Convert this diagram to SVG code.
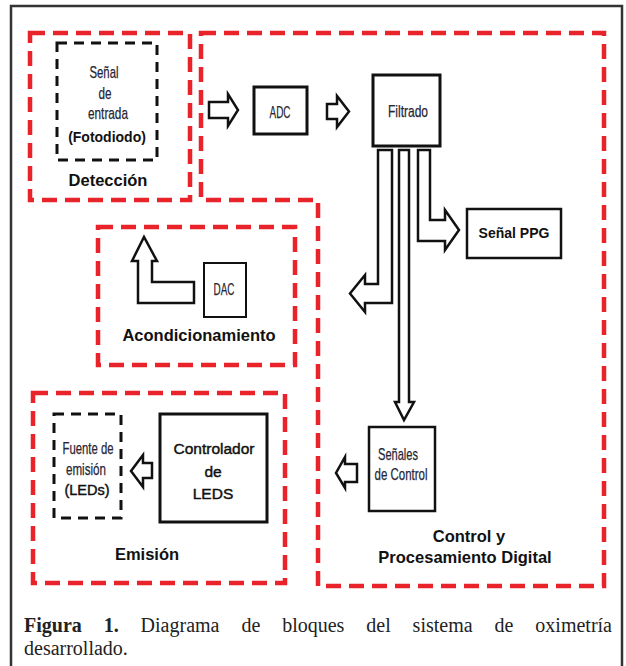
<svg xmlns="http://www.w3.org/2000/svg" width="626" height="666" viewBox="0 0 626 666">
<style>
.frame{fill:none;stroke:#333;stroke-width:2.5}
.red{fill:none;stroke:#e8232a;stroke-width:4.5;stroke-dasharray:15 8}
.bdash{fill:none;stroke:#111;stroke-width:3;stroke-dasharray:10 7}
.box{fill:#fff;stroke:#111;stroke-width:3}
.arr{fill:#fff;stroke:#111;stroke-width:2.5;stroke-linejoin:miter}
.nar{font-family:"Liberation Sans",Arial,sans-serif;font-size:17px;fill:#262636;stroke:#262636;stroke-width:0.25;text-anchor:middle}
.reg{font-family:"Liberation Sans",Arial,sans-serif;font-size:15.5px;fill:#111;stroke:#111;stroke-width:0.45;text-anchor:middle}
.bld{font-family:"Liberation Sans",Arial,sans-serif;font-size:16.5px;font-weight:bold;fill:#111;text-anchor:middle}
.cap{font-family:"Liberation Serif","Times New Roman",serif;font-size:20px;fill:#222}
</style>
<rect width="626" height="666" fill="#fff"/>
<rect class="frame" x="11" y="6" width="611" height="680"/>

<g id="grp-deteccion">
<rect class="red" x="30" y="33" width="160" height="167"/>
<text class="bld" x="108" y="186">Detección</text>
</g>
<g id="grp-control">
<path class="red" d="M201,33 H604 V586 H318 V200 H201 Z"/>
<text class="bld" x="469" y="542">Control y</text>
<text class="bld" x="465" y="563">Procesamiento Digital</text>
</g>
<g id="grp-acond">
<rect class="red" x="98" y="227" width="197" height="138"/>
<text class="bld" x="199" y="341">Acondicionamiento</text>
</g>
<g id="grp-emision">
<rect class="red" x="33" y="393" width="252" height="190"/>
<text class="bld" x="147" y="560">Emisión</text>
</g>

<g id="senal-entrada">
<rect class="bdash" x="57" y="43" width="100" height="117"/>
<text class="nar" x="104" y="78" textLength="29" lengthAdjust="spacingAndGlyphs">Señal</text>
<text class="nar" x="105" y="99" textLength="13" lengthAdjust="spacingAndGlyphs">de</text>
<text class="nar" x="108" y="119" textLength="40" lengthAdjust="spacingAndGlyphs">entrada</text>
<text class="bld" x="107" y="142" style="font-size:14px">(Fotodiodo)</text>
</g>
<g id="adc">
<rect class="box" x="254" y="87" width="53" height="47"/>
<text class="nar" x="280" y="118" textLength="21" lengthAdjust="spacingAndGlyphs">ADC</text>
</g>
<g id="filtrado">
<rect class="box" x="373" y="75" width="67" height="71"/>
<text class="nar" x="408" y="117" textLength="40" lengthAdjust="spacingAndGlyphs">Filtrado</text>
</g>
<g id="senal-ppg">
<rect class="box" x="467" y="209" width="94" height="49" style="stroke-width:2.5"/>
<text class="bld" x="514" y="238" style="font-size:14px">Señal PPG</text>
</g>
<g id="dac">
<rect class="box" x="204" y="263" width="42" height="54" style="stroke-width:2"/>
<text class="nar" x="224" y="295" textLength="21" lengthAdjust="spacingAndGlyphs">DAC</text>
</g>
<g id="senales-control">
<rect class="box" x="369" y="427" width="66" height="84" style="stroke-width:2.5"/>
<text class="nar" x="398" y="460" textLength="40" lengthAdjust="spacingAndGlyphs">Señales</text>
<text class="nar" x="401" y="480" textLength="53" lengthAdjust="spacingAndGlyphs">de Control</text>
</g>
<g id="controlador-leds">
<rect class="box" x="160" y="414" width="107" height="108"/>
<text class="reg" x="214" y="454">Controlador</text>
<text class="reg" x="213" y="477">de</text>
<text class="reg" x="213" y="499">LEDS</text>
</g>
<g id="fuente-emision">
<rect class="bdash" x="54" y="414" width="67" height="104"/>
<text class="nar" x="88" y="454" textLength="51" lengthAdjust="spacingAndGlyphs">Fuente de</text>
<text class="nar" x="86" y="475" textLength="40" lengthAdjust="spacingAndGlyphs">emisión</text>
<text class="reg" x="87" y="495" style="font-size:14.5px">(LEDs)</text>
</g>

<g id="connectors">
<polygon class="arr" points="209,102 228,102 228,94 238,110 228,126 228,118 209,118"/>
<polygon class="arr" points="327,104 337,104 337,96 349,111.5 337,127 337,119 327,119"/>
<polygon class="arr" points="378,150 378,284 365,284 365,275 350,293.5 365,312 365,303 392,303 392,150"/>
<polygon class="arr" points="399,150 399,402 395,402 404,420 414,402 409,402 409,150"/>
<polygon class="arr" points="418,150 418,241 445,241 445,250 459,230 445,210 445,220 430,220 430,150"/>
<polygon class="arr" points="194,282 152,282 152,261 157,261 144,237 132,261 138,261 138,303 194,303"/>
<polygon class="arr" points="357,464 345,464 345,457 336,473 345,488 345,482 357,482"/>
<polygon class="arr" points="152,463 143,463 143,455 131,471 143,487 143,478 152,478"/>
</g>

<g id="caption">
<text class="cap" y="632"><tspan x="24" font-weight="bold">Figura</tspan><tspan x="103.7" font-weight="bold">1.</tspan><tspan x="140.6">Diagrama</tspan><tspan x="241.4">de</tspan><tspan x="282.2">bloques</tspan><tspan x="366.3">del</tspan><tspan x="412.6">sistema</tspan><tspan x="494.5">de</tspan><tspan x="612" text-anchor="end">oximetría</tspan></text>
<text class="cap" x="24" y="655">desarrollado.</text>
</g>
</svg>
